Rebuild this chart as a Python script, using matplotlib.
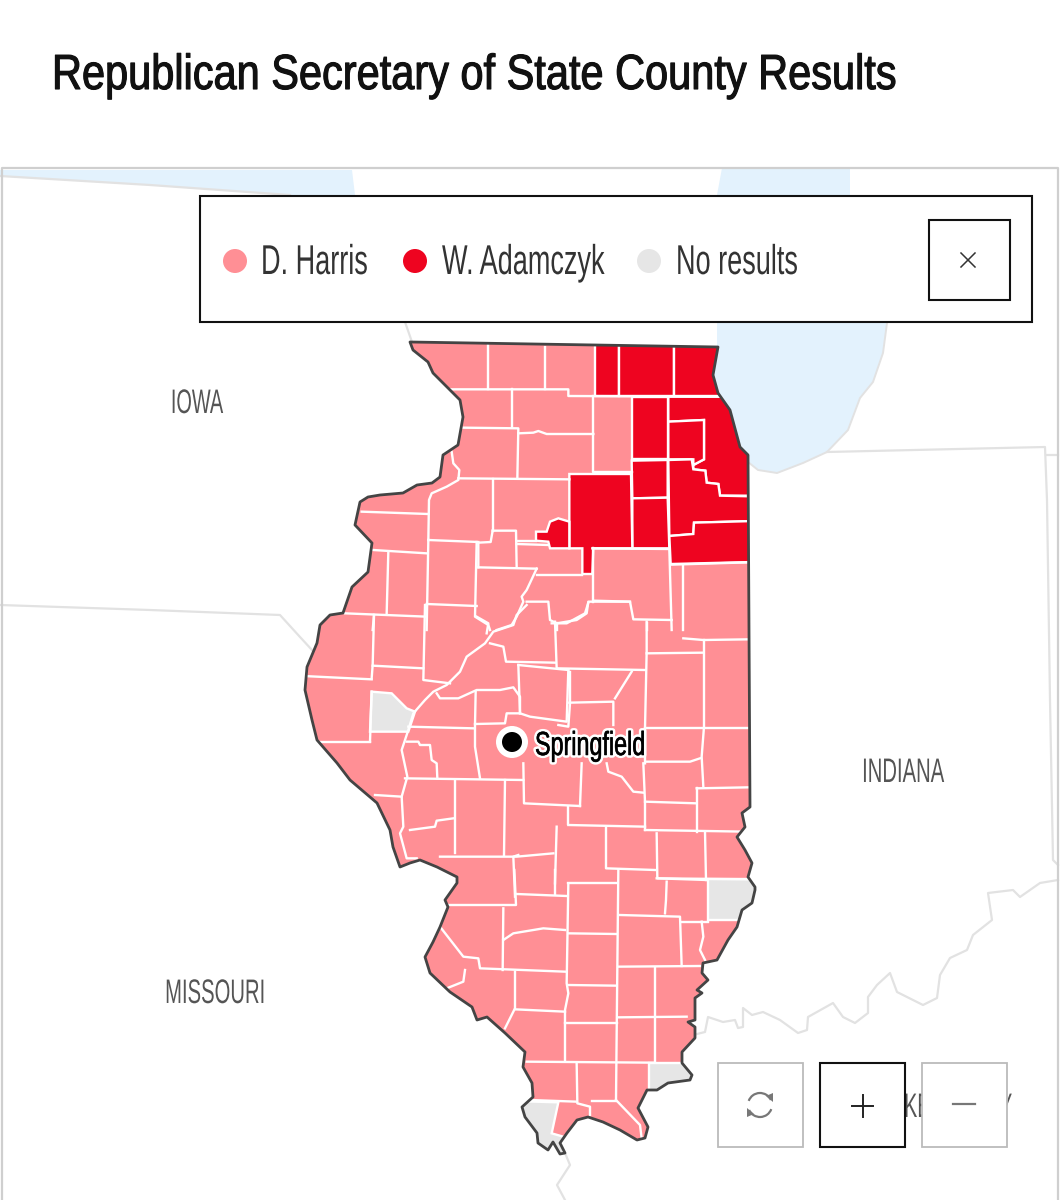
import matplotlib
matplotlib.use("Agg")
import matplotlib.pyplot as plt
import matplotlib.patheffects as pe
from matplotlib.patches import Polygon, Rectangle, Circle, Arc
from matplotlib.transforms import Affine2D

plt.rcParams['font.family'] = ['Liberation Sans Narrow', 'Liberation Sans', 'DejaVu Sans']

title = "Republican Secretary of State County Results"
legend_names = ["D. Harris", "W. Adamczyk", "No results"]
legend_colors = ["#FF8F95", "#EE0420", "#E6E6E6"]
state_names = ["IOWA", "MISSOURI", "INDIANA", "KENTUCKY"]

# state outline in picture pixels, clockwise from the NW corner
state_outline = [(410,342),(718,347),(713,375),(718,393),(730,410),(740,447),(748,455),(750,807),
    (742,813),(745,827),(737,837),(745,850),(752,863),(748,877),(755,887),(755,890),(752,903),
    (742,910),(737,927),(728,940),(717,960),(703,963),(702,973),(708,980),(697,990),(702,993),
    (695,998),(695,1020),(688,1022),(695,1027),(695,1038),(682,1052),(682,1063),(692,1075),
    (690,1080),(668,1083),(657,1090),(647,1090),(638,1108),(648,1127),(645,1138),(637,1140),
    (620,1130),(603,1122),(588,1117),(577,1120),(567,1133),(560,1143),(565,1153),(560,1154),
    (553,1142),(548,1150),(538,1143),(537,1133),(525,1117),(522,1107),(533,1097),(532,1083),
    (523,1067),(525,1052),(505,1033),(487,1017),(477,1020),(472,1007),(450,992),(430,973),
    (425,957),(433,942),(440,927),(448,907),(445,900),(457,883),(457,877),(437,867),(420,860),
    (410,863),(400,867),(393,847),(390,830),(377,803),(350,780),(337,763),(317,740),(312,720),
    (305,690),(307,667),(317,643),(320,625),(330,615),(343,613),(352,587),(368,572),(372,543),
    (355,525),(360,502),(368,497),(380,495),(403,493),(417,485),(432,483),(440,477),(443,455),
    (458,445),(463,417),(460,400),(450,390),(433,373),(428,362),(413,350)]

north_origin = (300, 330)
middle_origin = (300, 600)
south_origin = (380, 870)

adamczyk_counties = [
    [(885,30),(958,30),(958,197),(885,197)],
    [(958,30),(1122,30),(1122,197),(958,197)],
    [(1122,30),(1400,30),(1400,197),(1122,197)],
    [(997,200),(1105,200),(1105,275),(1105,388),(995,388)],
    [(1105,200),(1400,200),(1400,497),(1260,497),(1255,462),(1220,458),(1216,422),(1180,418),(1180,405),(1212,388),(1212,270),(1105,275)],
    [(1105,275),(1212,270),(1212,388),(1180,405),(1180,388),(1105,388)],
    [(995,392),(1103,390),(1103,503),(997,505)],
    [(997,505),(1103,503),(1108,655),(997,655)],
    [(1105,390),(1175,388),(1180,418),(1216,422),(1220,458),(1255,462),(1260,497),(1400,500),(1400,572),(1182,578),(1180,612),(1108,618)],
    [(1108,618),(1180,612),(1182,578),(1400,572),(1400,695),(1112,702)],
    [(808,432),(993,432),(997,655),(880,655),(877,732),(847,732),(847,655),(808,655)],
    [(708,605),(740,605),(750,575),(775,565),(808,575),(808,655),(750,655),(745,635),(708,632)],
]

no_results_middle = [[(215,275),(275,280),(320,325),(345,335),(325,395),(210,395)]]
no_results_south = [
    [(985,28),(1200,28),(1200,150),(985,150)],
    [(808,578),(1000,578),(1000,700),(808,700)],
    [(400,693),(535,697),(515,790),(550,800),(550,900),(400,900)],
]

north_borders = [
    [(563,45),(563,178)], [(735,50),(735,178)], [(450,178),(805,178),(805,198),(1260,200)],
    [(637,178),(637,292)], [(490,293),(655,295),(652,445)],
    [(655,310),(700,308),(715,303),(740,312),(880,312)], [(880,198),(880,427),(995,427)],
    [(455,365),(460,400),(478,420),(475,450),(440,470),(395,490),(387,510),(385,630)],
    [(475,445),(808,448)], [(185,545),(385,552)], [(578,448),(578,602)],
    [(385,630),(535,636)], [(578,602),(648,602),(650,712)], [(578,602),(572,636),(535,638),(535,712)],
    [(535,712),(710,716)], [(650,634),(708,634)], [(650,642),(745,645)],
    [(710,735),(847,735)], [(880,655),(880,815)], [(877,655),(1108,657)],
    [(880,812),(990,815),(1000,868),(1115,870)], [(1108,657),(1115,900)],
    [(1112,704),(1345,697)], [(1150,705),(1150,900)], [(385,630),(380,900)],
    [(265,665),(260,850)], [(220,660),(380,670)], [(135,850),(380,860)], [(222,855),(218,900)],
    [(380,822),(530,828)], [(530,636),(525,860),(565,885),(570,900)],
    [(710,716),(680,780),(665,800),(670,815),(650,860),(635,885),(590,900)],
    [(680,815),(745,815),(750,870),(770,880),(830,870),(860,850),(865,815),(990,815)],
    [(770,880),(770,900)], [(1040,880),(1040,900)],
]

middle_borders = [
    [(222,45),(218,195),(215,235)], [(10,228),(215,238)], [(218,197),(370,205)],
    [(375,15),(370,240),(450,250)], [(530,50),(565,70),(560,100)],
    [(680,15),(650,45),(640,75),(580,95),(555,130),(500,170),(480,215),(440,255),(400,275),(375,300),(340,340),(325,390),(305,450),(322,530),(305,590),(310,680),(300,700),(320,775),(350,775)],
    [(570,130),(610,140),(618,185),(765,188)], [(765,65),(770,205),(1035,210)],
    [(755,70),(800,70),(855,40),(865,8)], [(1040,65),(1040,155),(1035,385),(1035,490)],
    [(1040,160),(1210,158)], [(1150,115),(1210,120),(1345,118)],
    [(1212,120),(1212,380),(1205,470),(1210,560)], [(1035,385),(1345,385)],
    [(1040,485),(1170,485),(1200,475)], [(1190,565),(1345,562)], [(1035,605),(1190,610)],
    [(1190,565),(1190,695)], [(1035,690),(1340,695)],
    [(655,195),(660,340),(620,340),(615,370),(525,372)], [(655,195),(805,210)],
    [(805,210),(800,365),(690,350),(660,340)], [(810,215),(810,305)],
    [(808,308),(940,305),(940,375)], [(945,295),(995,215)], [(810,310),(805,380),(775,375)],
    [(410,280),(420,295),(475,295),(530,270),(600,270),(640,262),(660,290),(660,340)],
    [(527,275),(525,375),(525,440),(540,535)], [(325,380),(520,385)],
    [(60,425),(210,425)], [(215,275),(210,425)],
    [(320,425),(355,425),(360,435),(390,435),(395,480),(410,490),(412,535)],
    [(315,535),(670,540)], [(670,490),(672,610),(840,618)], [(845,490),(840,618)],
    [(465,540),(465,760)], [(615,540),(612,765)], [(305,590),(225,585)],
    [(330,690),(405,680),(410,662),(460,655)], [(420,770),(650,770),(760,760)],
    [(920,490),(925,515),(965,530),(1000,575),(1030,578)], [(1030,490),(1035,605),(1035,690)],
    [(805,620),(805,672)], [(805,675),(1035,680)], [(770,680),(765,850)],
    [(918,680),(918,805),(1065,810)], [(1070,700),(1072,835),(1220,840)],
    [(1215,695),(1218,840)], [(655,765),(640,770),(645,890)],
]

south_borders = [
    [(403,0),(408,105),(205,105)], [(410,72),(560,78)], [(525,0),(525,72)],
    [(565,40),(710,40)], [(565,40),(560,340),(565,370),(555,420),(555,575)],
    [(565,190),(710,192)], [(370,115),(368,300)],
    [(370,210),(400,190),(460,180),(490,175),(555,180)],
    [(180,170),(250,260),(295,265),(300,295),(555,305)],
    [(255,300),(250,335),(200,355)], [(405,305),(405,415),(375,475)], [(405,418),(555,425)],
    [(565,345),(710,347)], [(715,0),(712,290),(708,690)], [(720,135),(900,140),(905,288)],
    [(860,35),(858,90),(855,130)], [(830,25),(1120,28)], [(905,155),(985,155)],
    [(965,155),(970,200),(960,240),(975,270)], [(715,290),(960,288)], [(825,295),(825,575)],
    [(715,442),(920,440)], [(555,460),(710,460)], [(440,575),(820,578)],
    [(590,580),(592,700),(630,710),(630,735)], [(708,690),(780,765),(785,805)],
    [(635,692),(708,692)], [(450,690),(590,695)],
]

# neighbouring state lines and water, picture pixels
lake_michigan = [(722,168),(717,195),(717,347),(713,375),(718,393),(730,410),(740,447),(748,462),
    (758,470),(777,473),(803,463),(827,452),(848,430),(860,398),(873,382),(883,353),(887,323),
    (875,280),(860,240),(850,195),(850,168)]
lake_north = [(0,170),(352,170),(355,195),(290,195),(150,185),(0,176)]
neighbour_lines = [
    [(0,176),(150,185),(290,195)],
    [(405,322),(412,342)],
    [(0,605),(150,610),(280,615),(300,637),(312,650)],
    [(827,452),(1045,447),(1047,500),(1050,700),(1053,860),(1058,865)],
    [(1047,455),(1058,455)],
    [(565,1153),(570,1165),(557,1185),(565,1200)],
    [(693,1035),(705,1032),(708,1017),(723,1022),(735,1020),(738,1028),(743,1027),(743,1008),
     (752,1015),(763,1012),(780,1020),(798,1033),(807,1030),(808,1017),(833,1003),(843,1017),
     (855,1023),(868,1013),(868,997),(877,985),(890,973),(897,992),(913,1000),(923,1005),(937,998),
     (940,975),(950,958),(967,950),(973,935),(992,920),(988,893),(1013,890),(1020,897),(1040,883),(1058,880)],
]


class Squeeze(pe.AbstractPathEffect):
    # narrows the glyphs sideways around x0, the fonts here are wider than the original
    def __init__(self, sx, x0, halo=0, bold=0):
        super().__init__()
        self.sx = sx
        self.x0 = x0
        self.halo = halo
        self.bold = bold

    def stroke(self, renderer, gc, tpath, aff, width, color, rgbFace):
        gc0 = renderer.new_gc()
        gc0.copy_properties(gc)
        gc0.set_linewidth(width)
        gc0.set_foreground(color)
        renderer.draw_path(gc0, tpath, aff, rgbFace)
        gc0.restore()

    def draw_path(self, renderer, gc, tpath, affine, rgbFace=None):
        aff = affine + Affine2D().translate(-self.x0, 0).scale(self.sx, 1).translate(self.x0, 0)
        if self.halo:
            self.stroke(renderer, gc, tpath, aff, self.halo, "white", None)
        if self.bold:
            self.stroke(renderer, gc, tpath, aff, self.bold, rgbFace, rgbFace)
        renderer.draw_path(gc, tpath, aff, rgbFace)


def crop_to_px(points, origin):
    return [(origin[0] + x / 3, origin[1] + y / 3) for x, y in points]


def label(ax, x, y, text, size, sx, color="#333333", ha="left", halo=0, bold=0, zorder=20):
    t = ax.text(x, y, text, fontsize=size, color=color, ha=ha, va="baseline", zorder=zorder)
    t.set_path_effects([Squeeze(sx, x, halo, bold)])
    return t


fig = plt.figure(figsize=(10.6, 12), dpi=100, facecolor="white")
ax = fig.add_axes([0, 0, 1, 1])
ax.set_xlim(0, 1060)
ax.set_ylim(1200, 0)
ax.axis("off")

label(ax, 52, 89, title, 35.5, 0.842, color="#111111", bold=0.8)

# map background
for shape in [lake_north, lake_michigan]:
    ax.add_patch(Polygon(shape, closed=True, fc="#E3F2FD", ec="none", zorder=1))
for line in neighbour_lines:
    xs, ys = zip(*line)
    ax.plot(xs, ys, color="#E2E2E2", lw=1.6, zorder=2)
xs, ys = zip(*lake_michigan[7:19])
ax.plot(xs, ys, color="#E2E2E2", lw=1.4, zorder=2)
ax.plot([2, 2, 1058, 1058], [1200, 168, 168, 1200], color="#CFCFCF", lw=1.6, zorder=2)

label(ax, 197, 413, state_names[0], 24.5, 0.585, color="#555555", ha="center")
label(ax, 215, 1003, state_names[1], 24.5, 0.595, color="#555555", ha="center")
label(ax, 903, 782, state_names[2], 24.5, 0.595, color="#555555", ha="center")
label(ax, 958, 1117, state_names[3], 24.5, 0.584, color="#555555", ha="center", zorder=3)

# state and counties
state = Polygon(state_outline, closed=True, fc=legend_colors[0], ec="none", zorder=4)
ax.add_patch(state)


def add_county(points, origin, color):
    p = Polygon(crop_to_px(points, origin), closed=True, fc=color, ec="white", lw=1.7, zorder=5)
    ax.add_patch(p)
    p.set_clip_path(state)


for county in adamczyk_counties:
    add_county(county, north_origin, legend_colors[1])
for county in no_results_middle:
    add_county(county, middle_origin, legend_colors[2])
for county in no_results_south:
    add_county(county, south_origin, legend_colors[2])

for borders, origin in [(north_borders, north_origin), (middle_borders, middle_origin), (south_borders, south_origin)]:
    for line in borders:
        xs, ys = zip(*crop_to_px(line, origin))
        l, = ax.plot(xs, ys, color="white", lw=1.7, zorder=6)
        l.set_clip_path(state)

ax.add_patch(Polygon(state_outline, closed=True, fc="none", ec="#444444", lw=2, joinstyle="round", zorder=7))

# Springfield marker
ax.add_patch(Circle((512, 742), 16, fc="white", ec="none", zorder=8))
ax.add_patch(Circle((512, 742), 10, fc="black", ec="none", zorder=9))
label(ax, 535, 755, "Springfield", 24, 0.70, color="black", halo=4, bold=0.4)

# legend box
ax.add_patch(Rectangle((200, 196), 832, 126, fc="white", ec="#111111", lw=1.5, zorder=10))
legend_x = [235, 415, 649]
legend_text_x = [261, 442, 676]
for cx, tx, name, color in zip(legend_x, legend_text_x, legend_names, legend_colors):
    ax.add_patch(Circle((cx, 261), 12, fc=color, ec="none", zorder=11))
    label(ax, tx, 274, name, 30, 0.65)
ax.add_patch(Rectangle((929, 220), 81, 80, fc="white", ec="#111111", lw=1.5, zorder=11))
ax.plot([961, 975], [253, 267], color="#333333", lw=1.1, zorder=12)
ax.plot([975, 961], [253, 267], color="#333333", lw=1.1, zorder=12)

# map buttons
ax.add_patch(Rectangle((718, 1063), 85, 84, fc="white", ec="#BBBBBB", lw=1.3, zorder=10))
ax.add_patch(Rectangle((820, 1063), 85, 84, fc="white", ec="#111111", lw=1.5, zorder=10))
ax.add_patch(Rectangle((922, 1063), 85, 84, fc="white", ec="#BBBBBB", lw=1.3, zorder=10))
ax.add_patch(Arc((760, 1105), 24, 24, theta1=200, theta2=335, color="#777777", lw=1.6, zorder=11))
ax.add_patch(Arc((760, 1105), 24, 24, theta1=20, theta2=155, color="#777777", lw=1.6, zorder=11))
ax.add_patch(Polygon([(766, 1096), (773, 1093), (773, 1102)], fc="#777777", ec="none", zorder=11))
ax.add_patch(Polygon([(754, 1114), (747, 1117), (747, 1108)], fc="#777777", ec="none", zorder=11))
ax.plot([852, 873], [1106, 1106], color="#222222", lw=1.4, zorder=11)
ax.plot([862.5, 862.5], [1095, 1117], color="#222222", lw=1.4, zorder=11)
ax.plot([953, 975], [1104, 1104], color="#777777", lw=1.6, zorder=11)

plt.savefig("out.png", dpi=100)
